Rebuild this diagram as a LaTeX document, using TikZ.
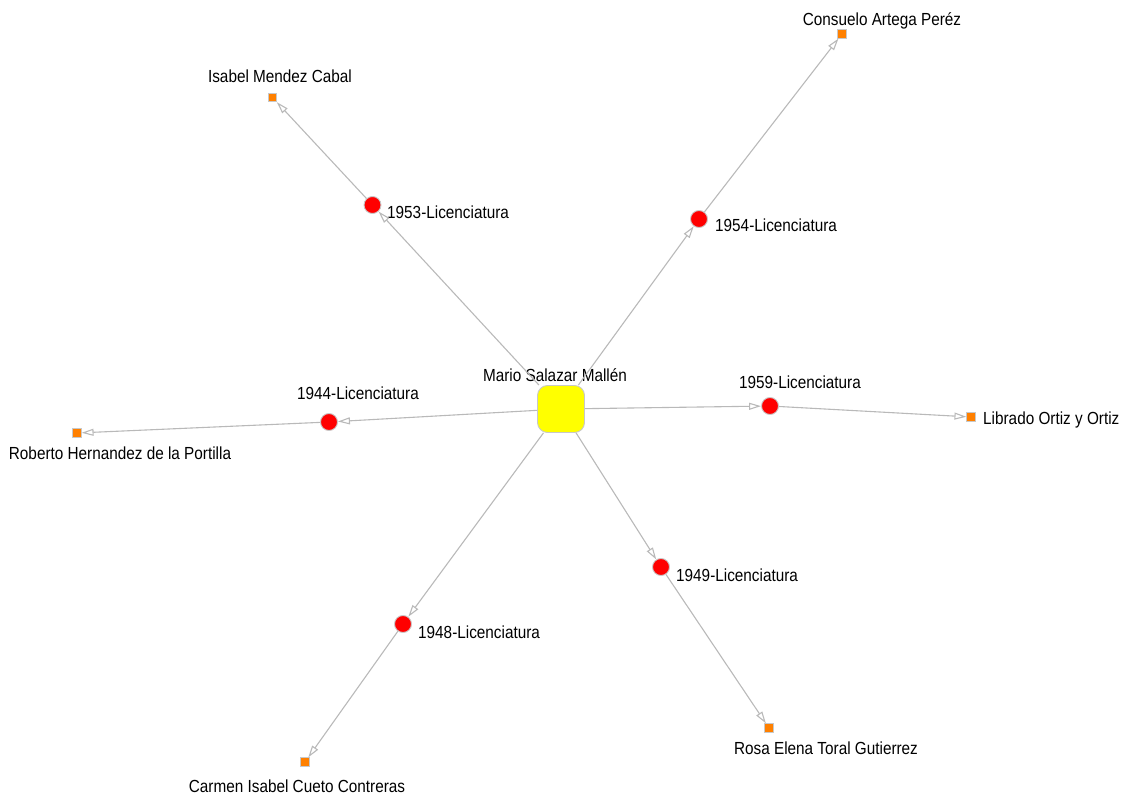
\documentclass[tikz,border=0pt]{standalone}
\usepackage{fontspec}
\setmainfont{Liberation Sans}[FakeStretch=0.875]
\usetikzlibrary{arrows.meta}
\definecolor{edgegray}{RGB}{185,185,185}
\definecolor{rimgray}{RGB}{200,200,200}
\definecolor{nodered}{RGB}{255,0,0}
\definecolor{nodeorange}{RGB}{255,128,0}
\definecolor{nodeyellow}{RGB}{255,255,0}
\tikzset{
  person/.style={rectangle, draw=rimgray, line width=0.9pt, fill=nodeyellow,
    minimum size=47pt, rounded corners=10pt, inner sep=0pt},
  degree/.style={circle, draw=rimgray, line width=0.9pt, fill=nodered,
    minimum size=17pt, inner sep=0pt},
  student/.style={rectangle, draw=rimgray, line width=0.7pt, fill=nodeorange,
    minimum size=8.5pt, inner sep=0pt},
  lbl/.style={inner sep=0pt, text height=12.5pt, text depth=0pt,
    font=\fontsize{17.5pt}{20pt}\selectfont},
  link/.style={draw=edgegray, line width=1.1pt,
    -{Triangle[open, length=12pt, width=7pt]}},
}
\begin{document}
\begin{tikzpicture}[x=1pt, y=-1pt]
\useasboundingbox (0,0) rectangle (1122,794);

% central person
\node[person] (mario) at (561,409) {};
\node[lbl] (mariolbl) at (555,375) {Mario Salazar Mallén};

% degree nodes
\node[degree] (d1953) at (372.5,205) {};
\node[degree] (d1954) at (699,219) {};
\node[degree] (d1944) at (329,422) {};
\node[degree] (d1959) at (770,406) {};
\node[degree] (d1949) at (661,567) {};
\node[degree] (d1948) at (403,624) {};

\node[lbl, anchor=west] (l1953) at (387,212) {1953-Licenciatura};
\node[lbl, anchor=west] (l1954) at (715,225) {1954-Licenciatura};
\node[lbl] (l1944) at (358,393) {1944-Licenciatura};
\node[lbl] (l1959) at (800,382) {1959-Licenciatura};
\node[lbl, anchor=west] (l1949) at (676,575) {1949-Licenciatura};
\node[lbl, anchor=west] (l1948) at (418,632) {1948-Licenciatura};

% students
\node[student] (isabel) at (272.5,97.5) {};
\node[student] (consuelo) at (842,34) {};
\node[student] (roberto) at (77,433) {};
\node[student] (librado) at (971,417) {};
\node[student] (rosa) at (769,728) {};
\node[student] (carmen) at (305,762) {};

\node[lbl] (lisabel) at (280,76) {Isabel Mendez Cabal};
\node[lbl] (lconsuelo) at (882,19) {Consuelo Artega Peréz};
\node[lbl] (lroberto) at (120,453) {Roberto Hernandez de la Portilla};
\node[lbl, anchor=west] (llibrado) at (983,418) {Librado Ortiz y Ortiz};
\node[lbl] (lrosa) at (826,748) {Rosa Elena Toral Gutierrez};
\node[lbl] (lcarmen) at (297,786) {Carmen Isabel Cueto Contreras};

% connectors: person -> degree -> student
\draw[link] (mario) -- (d1953);
\draw[link] (mario) -- (d1954);
\draw[link] (mario) -- (d1944);
\draw[link] (mario) -- (d1959);
\draw[link] (mario) -- (d1949);
\draw[link] (mario) -- (d1948);
\draw[link] (d1953) -- (isabel);
\draw[link] (d1954) -- (consuelo);
\draw[link] (d1944) -- (roberto);
\draw[link] (d1959) -- (librado);
\draw[link] (d1949) -- (rosa);
\draw[link] (d1948) -- (carmen);
\end{tikzpicture}
\end{document}
